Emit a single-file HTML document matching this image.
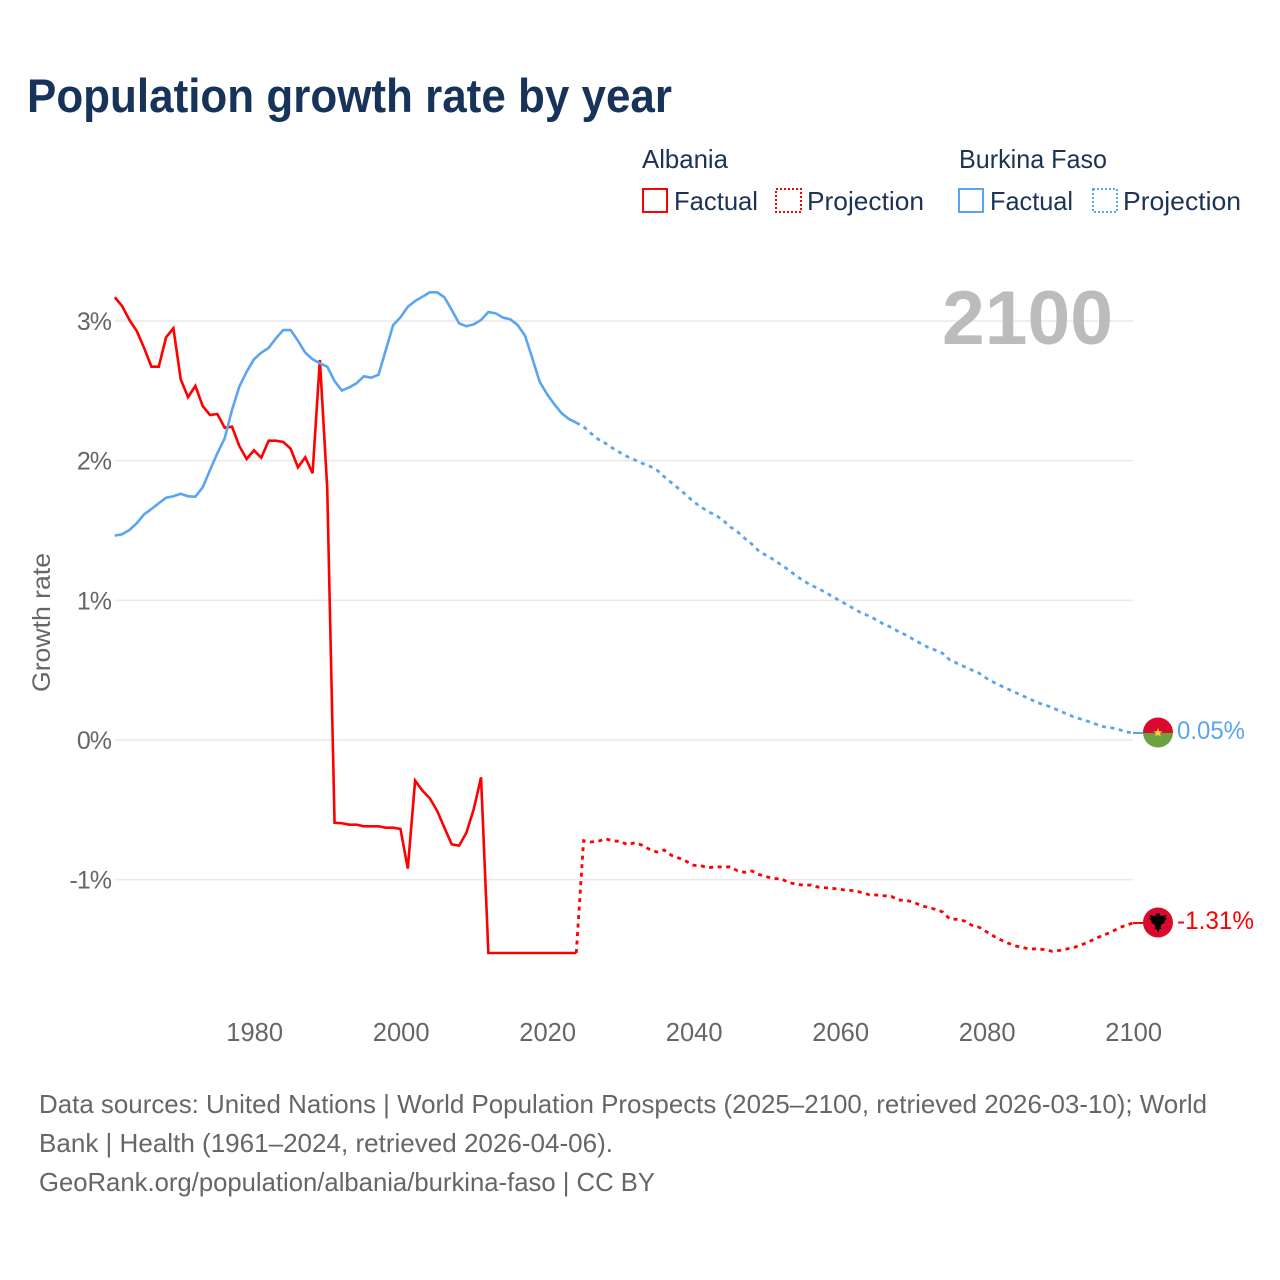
<!DOCTYPE html>
<html lang="en">
<head>
<meta charset="utf-8">
<title>Population growth rate by year</title>
<style>
html,body{margin:0;padding:0;background:#fff;width:1280px;height:1280px;overflow:hidden}
svg{display:block;font-family:"Liberation Sans",Arial,sans-serif}
</style>
</head>
<body>
<svg id="chart" xmlns="http://www.w3.org/2000/svg" width="1280" height="1280" viewBox="0 0 1280 1280">
  <text x="27" y="112" font-size="47" font-weight="700" fill="#18335a" textLength="645" lengthAdjust="spacingAndGlyphs">Population growth rate by year</text>

  <g font-size="26" fill="#1b3355">
    <text x="642" y="168" textLength="86" lengthAdjust="spacingAndGlyphs">Albania</text>
    <rect x="643" y="189" width="24" height="23" fill="none" stroke="#ff0000" stroke-width="2"/>
    <text x="674" y="210" textLength="84" lengthAdjust="spacingAndGlyphs">Factual</text>
    <rect x="776" y="189" width="25" height="23" fill="none" stroke="#ff0000" stroke-width="2" stroke-dasharray="2 2"/>
    <text x="807" y="210" textLength="117" lengthAdjust="spacingAndGlyphs">Projection</text>
    <text x="959" y="168" textLength="148" lengthAdjust="spacingAndGlyphs">Burkina Faso</text>
    <rect x="959" y="189" width="24" height="23" fill="none" stroke="#5ba5f0" stroke-width="2"/>
    <text x="990" y="210" textLength="83" lengthAdjust="spacingAndGlyphs">Factual</text>
    <rect x="1093" y="189" width="24" height="23" fill="none" stroke="#5ba5f0" stroke-width="2" stroke-dasharray="2 2"/>
    <text x="1123" y="210" textLength="118" lengthAdjust="spacingAndGlyphs">Projection</text>
  </g>

  <g id="grid"></g>
  <g id="yticks"></g>
  <g id="xticks"></g>

  <text x="942" y="344" font-size="76" font-weight="700" fill="#bcbcbc" textLength="171" lengthAdjust="spacingAndGlyphs">2100</text>

  <text transform="translate(50,692) rotate(-90)" font-size="25" fill="#666666" textLength="139" lengthAdjust="spacingAndGlyphs">Growth rate</text>

  <g id="series"></g>

  <g>
    <defs>
      <clipPath id="flag-clip-bf"><circle cx="1158" cy="732.5" r="15"/></clipPath>
    </defs>
    <g clip-path="url(#flag-clip-bf)">
      <rect x="1143" y="717" width="30" height="16" fill="#da0a2e"/>
      <rect x="1143" y="733" width="30" height="16" fill="#6da13f"/>
    </g>
    <polygon points="1158,728 1159.2,731.3 1162.4,731.4 1159.9,733.4 1160.8,736.6 1158,734.8 1155.2,736.6 1156.1,733.4 1153.6,731.4 1156.8,731.3" fill="#f7d046"/>
  </g>
  <g>
    <circle cx="1158" cy="922.5" r="15" fill="#da0a2e"/>
    <path d="M1156.5 913.5 L1159.5 913.5 L1160.5 916 L1166.5 915 L1165 918 L1167 918.5 L1164 921.5 L1165 922.5 L1161.5 924.5 L1160.5 927 L1161.5 929 L1159.5 929 L1158.2 932.5 L1156.5 929 L1154.5 929 L1155.5 927 L1154.5 924.5 L1151 922.5 L1152 921.5 L1149 918.5 L1151 918 L1149.5 915 L1155.5 916 Z" fill="#000"/>
  </g>

  <text x="1177" y="739" font-size="25" fill="#5ba5f0" textLength="68" lengthAdjust="spacingAndGlyphs">0.05%</text>
  <text x="1177" y="929" font-size="25" fill="#ff0000" textLength="77" lengthAdjust="spacingAndGlyphs">-1.31%</text>

  <g font-size="26" fill="#666666">
    <text x="39" y="1113" textLength="1168" lengthAdjust="spacingAndGlyphs">Data sources: United Nations | World Population Prospects (2025–2100, retrieved 2026-03-10); World</text>
    <text x="39" y="1152" textLength="574" lengthAdjust="spacingAndGlyphs">Bank | Health (1961–2024, retrieved 2026-04-06).</text>
    <text x="39" y="1191" textLength="616" lengthAdjust="spacingAndGlyphs">GeoRank.org/population/albania/burkina-faso | CC BY</text>
  </g>
</svg>

<script>
const xTickYears = [1980, 2000, 2020, 2040, 2060, 2080, 2100];
const yTickValues = [3, 2, 1, 0, -1];
const yTickLabels = ["3%", "2%", "1%", "0%", "-1%"];
const factualStartYear = 1961;

const albaniaFactual = [
  3.170, 3.107, 3.007, 2.928, 2.807, 2.673, 2.673, 2.883, 2.948, 2.583,
  2.454, 2.535, 2.391, 2.327, 2.334, 2.236, 2.243, 2.105, 2.012, 2.074,
  2.021, 2.143, 2.143, 2.134, 2.086, 1.952, 2.024, 1.910, 2.721, 1.804,
  -0.592, -0.596, -0.606, -0.606, -0.618, -0.618, -0.618, -0.628, -0.628, -0.637,
  -0.921, -0.291, -0.363, -0.417, -0.506, -0.628, -0.747, -0.757, -0.664, -0.496,
  -0.267, -1.525, -1.525, -1.525, -1.525, -1.525, -1.525, -1.525, -1.525, -1.525,
  -1.525, -1.525, -1.525, -1.525
];
const albaniaProjection = [
  -0.721, -0.730, -0.725, -0.707, -0.723, -0.725, -0.750, -0.735, -0.754, -0.783,
  -0.802, -0.788, -0.826, -0.845, -0.868, -0.897, -0.900, -0.914, -0.909, -0.909,
  -0.909, -0.936, -0.947, -0.938, -0.964, -0.979, -0.993, -0.993, -1.022, -1.031,
  -1.040, -1.038, -1.053, -1.058, -1.062, -1.069, -1.076, -1.079, -1.093, -1.108,
  -1.110, -1.115, -1.119, -1.146, -1.148, -1.160, -1.184, -1.198, -1.212, -1.231,
  -1.282, -1.284, -1.296, -1.327, -1.341, -1.373, -1.405, -1.432, -1.456, -1.475,
  -1.487, -1.496, -1.496, -1.501, -1.513, -1.506, -1.496, -1.484, -1.466, -1.444,
  -1.418, -1.398, -1.375, -1.348, -1.327, -1.310
];
const burkinaFactual = [
  1.463, 1.473, 1.504, 1.552, 1.616, 1.654, 1.695, 1.735, 1.745, 1.763,
  1.745, 1.742, 1.809, 1.933, 2.053, 2.160, 2.363, 2.530, 2.637, 2.726,
  2.773, 2.807, 2.876, 2.935, 2.935, 2.859, 2.773, 2.726, 2.697, 2.673,
  2.570, 2.502, 2.525, 2.554, 2.604, 2.594, 2.615, 2.792, 2.971, 3.026,
  3.102, 3.143, 3.174, 3.205, 3.205, 3.170, 3.079, 2.983, 2.962, 2.976,
  3.007, 3.064, 3.055, 3.024, 3.012, 2.971, 2.895, 2.733, 2.565, 2.477,
  2.404, 2.339, 2.298, 2.272
];
const burkinaProjection = [
  2.243, 2.196, 2.153, 2.124, 2.088, 2.057, 2.028, 2.005, 1.981, 1.962,
  1.933, 1.885, 1.842, 1.799, 1.754, 1.706, 1.670, 1.635, 1.611, 1.575,
  1.527, 1.491, 1.444, 1.401, 1.348, 1.320, 1.289, 1.253, 1.217, 1.176,
  1.141, 1.110, 1.086, 1.057, 1.026, 0.997, 0.967, 0.938, 0.907, 0.888,
  0.859, 0.828, 0.807, 0.775, 0.752, 0.721, 0.692, 0.664, 0.644, 0.621,
  0.573, 0.549, 0.525, 0.501, 0.478, 0.442, 0.413, 0.387, 0.363, 0.339,
  0.315, 0.291, 0.267, 0.251, 0.231, 0.208, 0.186, 0.163, 0.148, 0.131,
  0.112, 0.095, 0.088, 0.077, 0.059, 0.050
];

const NS = "http://www.w3.org/2000/svg";
function xScale(year) { return 114.8 + (year - 1961) * 7.325; }
function yScale(value) { return 740 - value * 139.67; }

function makeEl(tag, attrs, parent) {
  const el = document.createElementNS(NS, tag);
  Object.keys(attrs).forEach(function (k) { el.setAttribute(k, attrs[k]); });
  parent.appendChild(el);
  return el;
}

const gridGroup = document.getElementById("grid");
const yTickGroup = document.getElementById("yticks");
const xTickGroup = document.getElementById("xticks");
const seriesGroup = document.getElementById("series");

yTickValues.forEach(function (v, i) {
  const y = yScale(v);
  const line = makeEl("line", { x1: 115, x2: 1133, y1: y, y2: y, stroke: "#e9e9e9", "stroke-width": 1.5 }, gridGroup);
  
  
  const t = makeEl("text", { x: 111, y: y + 9, "text-anchor": "end", "font-size": 25, "letter-spacing": -1, fill: "#666666" }, yTickGroup);
  t.textContent = yTickLabels[i];
  
  
});

xTickYears.forEach(function (yr) {
  const t = makeEl("text", { x: 115.5 + (yr - 1961) * 7.325, y: 1041, "text-anchor": "middle", "font-size": 25.5, fill: "#666666" }, xTickGroup);
  t.textContent = String(yr);
  
  
});

function toPoints(values, startYear) {
  return values.map(function (v, i) {
    return xScale(startYear + i).toFixed(2) + "," + yScale(v).toFixed(2);
  }).join(" ");
}

function drawSeries(factual, projection, color, namePrefix) {
  const factualLine = makeEl("polyline", { points: toPoints(factual, factualStartYear), fill: "none", stroke: color, "stroke-width": 2.6, "stroke-linejoin": "miter" }, seriesGroup);
  
  

  const lastFactualYear = factualStartYear + factual.length - 1;
  const projected = [factual[factual.length - 1]].concat(projection);
  const projectionLine = makeEl("polyline", { points: toPoints(projected, lastFactualYear), fill: "none", stroke: color, "stroke-width": 2.8, "stroke-dasharray": "4 4.5" }, seriesGroup);
  
  

  const lastY = yScale(projection[projection.length - 1]);
  const lastX = xScale(lastFactualYear + projection.length);
  const connector = makeEl("line", { x1: lastX, x2: 1143, y1: lastY, y2: lastY, stroke: color, "stroke-width": 2 }, seriesGroup);
  
  
}

drawSeries(albaniaFactual, albaniaProjection, "#ff0000", "albania");
drawSeries(burkinaFactual, burkinaProjection, "#5ba5f0", "burkina-faso");
</script>
</body>
</html>
